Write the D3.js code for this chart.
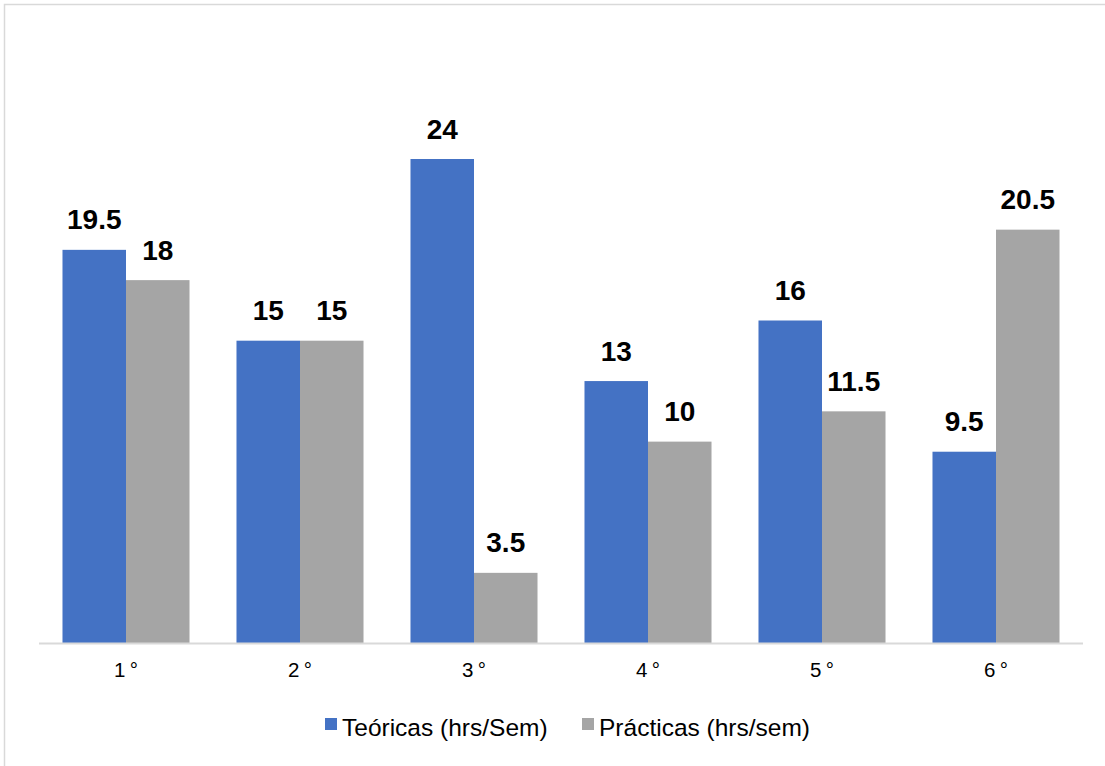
<!DOCTYPE html>
<html><head><meta charset="utf-8">
<script src="https://cdn.jsdelivr.net/npm/d3@7"></script>
<style>html,body{margin:0;padding:0;background:#fff;}svg{display:block;}</style>
</head><body>
<svg id="c" width="1105" height="766"></svg>
<script>
const categories = ["1°","2°","3°","4°","5°","6°"];
const teoricas = [19.5, 15, 24, 13, 16, 9.5];
const practicas = [18, 15, 3.5, 10, 11.5, 20.5];
const seriesNames = ["Teóricas (hrs/Sem)", "Prácticas (hrs/sem)"];
const colors = ["#4472C4", "#A5A5A5"];

const svg = d3.select("#c");
const font = "Liberation Sans, Arial, sans-serif";
svg.append("rect").attr("x",4.5).attr("y",4.5).attr("width",1110).attr("height",780)
  .attr("fill","#fff").attr("stroke","#d9d9d9").attr("stroke-width",1.5);

const left = 39, right = 1083, base = 643.5;
const x = d3.scaleBand().domain(categories).range([left,right]).paddingInner(0.27).paddingOuter(0.135);
const y = d3.scaleLinear().domain([0,24]).range([base, 159]);
const sub = d3.scaleBand().domain([0,1]).range([0, x.bandwidth()]);

const data = categories.map((c,i)=>({c, vals:[teoricas[i], practicas[i]]}));
const g = svg.append("g");
data.forEach(d=>{
  d.vals.forEach((v,k)=>{
    g.append("rect").attr("x", x(d.c)+sub(k)).attr("y", y(v))
      .attr("width", sub.bandwidth()).attr("height", base - y(v)).attr("fill", colors[k]);
    g.append("text").attr("x", x(d.c)+sub(k)+sub.bandwidth()/2).attr("y", y(v)-20.5)
      .attr("text-anchor","middle").attr("font-family",font).attr("font-weight","bold")
      .attr("font-size",28).attr("fill","#000").text(v);
  });
});
const ax = d3.axisBottom(x).tickSize(0).tickPadding(0).tickFormat("");
const axG = svg.append("g").attr("transform",`translate(0,${base})`).call(ax);
axG.select(".domain").attr("stroke","#d9d9d9").attr("stroke-width",2).attr("d",`M${left},0H${right}`);
axG.selectAll(".tick").each(function(d){
  const t = d3.select(this).select("text").attr("dy",null).attr("y",33)
    .attr("font-family",font).attr("font-size",20.5).attr("fill","#000")
    .attr("text-anchor","middle");
  t.append("tspan").text(d.replace("°",""));
  t.append("tspan").attr("dx",4.5).text("°");
});

const leg = svg.append("g");
const legX = [325, 582];
seriesNames.forEach((n,k)=>{
  leg.append("rect").attr("x",legX[k]).attr("y",718).attr("width",12).attr("height",12).attr("fill",colors[k]);
  leg.append("text").attr("x",legX[k]+17).attr("y",736).attr("font-family",font)
    .attr("font-size",24.5).attr("fill","#000").text(n);
});
</script>
</body></html>
